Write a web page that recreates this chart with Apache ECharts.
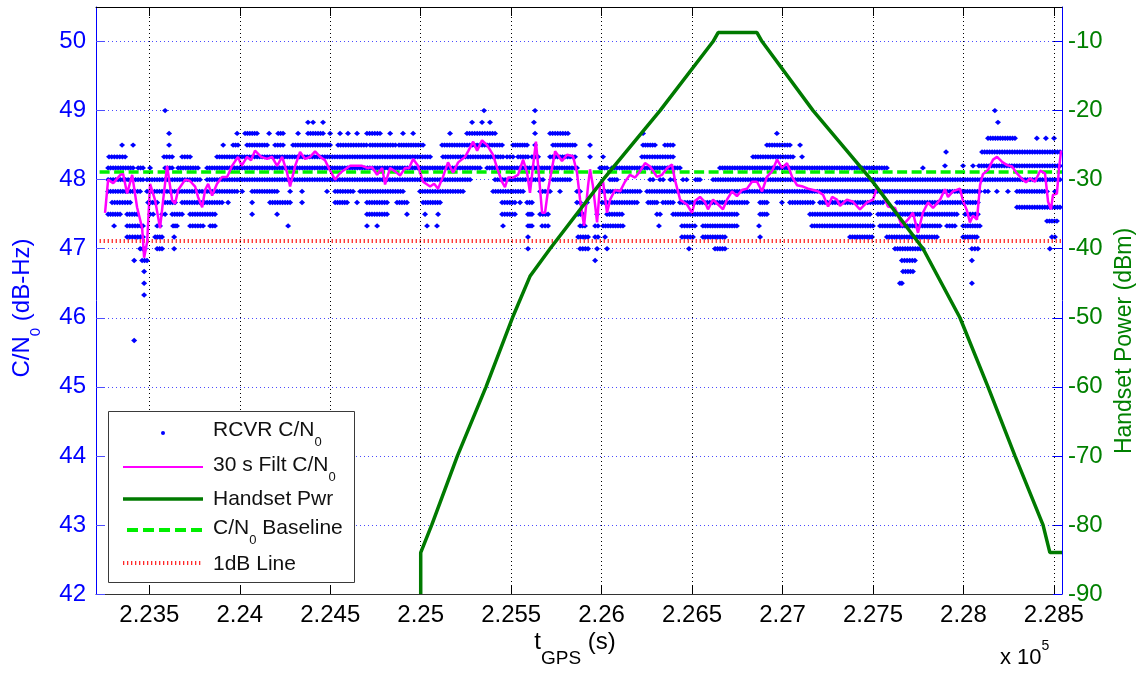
<!DOCTYPE html>
<html><head><meta charset="utf-8">
<script src="https://cdn.jsdelivr.net/npm/echarts@6/dist/echarts.min.js"></script>
<style>html,body{margin:0;padding:0;background:#fff}#c{width:1146px;height:677px}</style>
</head><body><div id="c"></div>
<script>
// ---------------- data ----------------
const xTicks = [223500,224000,224500,225000,225500,226000,226500,227000,227500,228000,228500];
const xTickLabels = ['2.235','2.24','2.245','2.25','2.255','2.26','2.265','2.27','2.275','2.28','2.285'];
const xRange = [223205, 228545];

// receiver C/N0 samples, grouped as runs [tStart, tEnd] of consecutive samples at each quantized level
const cnoLevels = [49.0, 48.83, 48.67, 48.6, 48.5, 48.4, 48.33, 48.2, 48.17, 48.0, 47.83, 47.67, 47.6, 47.5, 47.4, 47.33, 47.17, 47.0, 46.83, 46.67, 46.5, 46.33, 45.67];
const cnoRuns = [
 [[223587,223587],[225350,225350],[225632,225632],[228174,228174]],
 [[224377,224377],[224405,224405],[224460,224460],[225284,225284],[225339,225339],[225383,225383],[225626,225626],[228191,228191]],
 [[223609,223609],[223985,223985],[224029,224095],[224162,224162],[224212,224239],[224322,224322],[224377,224460],[224499,224499],[224554,224554],[224598,224598],[224648,224648],[224703,224775],[224831,224831],[224902,224902],[224958,224958],[225162,225162],[225256,225411],[225632,225632],[225715,225814],[226229,226229],[226969,226969]],
 [[228136,228285],[228406,228406],[228456,228456],[228501,228501]],
 [[223349,223349],[223410,223410],[223609,223609],[223908,223908],[223963,223990],[224040,224151],[224195,224239],[224294,224499],[224543,224700],[224720,224860],[224880,225013],[225118,225450],[225510,225588],[225632,225632],[225731,225853],[225936,225936],[226229,226295],[226350,226395],[226914,227041],[227097,227097]],
 [[227904,227904],[228103,228534]],
 [[223277,223366],[223581,223626],[223681,223725],[223874,225052],[225123,225455],[225477,225510],[225538,225593],[225615,225649],[225715,225853],[225936,225936],[226008,226008],[226223,226395],[226837,227058],[227108,227108]],
 [[227898,227898],[227998,227998],[228053,228053],[228086,228534]],
 [[223272,223410],[223438,223465],[223504,223504],[223587,223626],[223659,223769],[223819,225328],[225367,225864],[225991,226030],[226057,226433],[226654,227577],[227776,227776]],
 [[223272,223465],[223487,223780],[223819,225273],[225411,225676],[225731,225825],[226046,226085],[226268,226284],[226323,226340],[226380,226400],[226450,226470],[226520,226544],[226616,228534]],
 [[223272,223449],[223487,223985],[224013,224013],[224068,224206],[224278,224278],[224344,224344],[224482,224482],[224527,224626],[224665,224902],[224996,225234],[225400,225566],[225660,225715],[225770,225770],[225864,225881],[226008,226212],[226251,228091],[228119,228136],[228185,228185],[228246,228246],[228296,228462],[228506,228506]],
 [[223294,223394],[223493,223543],[223587,223642],[223681,223902],[223935,223935],[224068,224068],[224167,224278],[224344,224344],[224527,224593],[224648,224648],[224703,224814],[224869,224924],[225013,225107],[225450,225521],[225549,225549],[225588,225615],[225864,225881],[225919,225919],[226002,226196],[226257,226306],[226339,226395],[226433,226804],[226876,226914],[226997,226997],[227041,227168],[227207,227555],[227633,228080]],
 [[228296,228534]],
 [[223272,223338],[223377,223432],[223504,223521],[223570,223587],[223626,223681],[223725,223863],[224068,224068],[224206,224206],[224703,224814],[224924,224924],[225024,225024],[225096,225096],[225450,225521],[225593,225615],[225660,225704],[225870,225897],[225975,225975],[226030,226113],[226306,226323],[226395,226748],[226876,226914],[227152,227483],[227528,227964],[228009,228080]],
 [[228462,228517]],
 [[223305,223305],[223377,223465],[223543,223559],[223631,223653],[223725,223797],[223836,223863],[224267,224267],[224703,224703],[224759,224759],[225035,225035],[225090,225090],[225455,225455],[225593,225615],[225671,225704],[225881,225908],[225964,225980],[226008,226118],[226317,226317],[226444,226516],[226560,226748],[226870,226870],[227163,227500],[227539,227870],[227909,227953],[227998,228091]],
 [[223377,223465],[223532,223570],[223637,223637],[225593,225593],[225870,225925],[225964,225980],[226019,226019],[226444,226505],[226560,226682],[226876,226876],[227373,227495],[227577,227854],[227998,228075],[228489,228506]],
 [[223449,223476],[223543,223570],[223637,223637],[225593,225593],[225881,225925],[225975,225975],[226030,226030],[226483,226483],[226627,226682],[227622,227776],[228047,228080],[228478,228478]],
 [[223416,223416],[223460,223487],[225964,225964],[227660,227732],[228047,228047]],
 [[223471,223471],[227666,227721]],
 [[223471,223471],[227649,227660],[228047,228047]],
 [[223471,223471]],
 [[223416,223416]]
];

// 30 s filtered C/N0 [t, dB-Hz]
const filtCno = [[223255,47.52],[223272,48.0],[223300,47.95],[223340,48.07],[223355,48.08],[223377,47.8],[223405,48.07],[223432,47.6],[223460,47.3],[223471,46.87],[223488,47.1],[223504,47.94],[223532,47.7],[223559,47.3],[223576,47.7],[223598,48.2],[223626,47.7],[223642,47.65],[223659,47.85],[223698,48.0],[223725,47.98],[223753,47.9],[223769,47.75],[223792,47.6],[223808,47.85],[223825,47.94],[223847,47.77],[223874,47.94],[223902,48.04],[223930,48.04],[223957,48.2],[223990,48.33],[224010,48.2],[224040,48.33],[224062,48.28],[224084,48.42],[224118,48.33],[224151,48.3],[224178,48.33],[224206,48.2],[224234,48.33],[224261,48.1],[224278,47.9],[224306,48.2],[224333,48.4],[224361,48.3],[224389,48.33],[224416,48.41],[224444,48.33],[224471,48.28],[224499,48.13],[224527,48.0],[224549,48.08],[224571,48.13],[224610,48.2],[224648,48.2],[224676,48.2],[224704,48.17],[224731,48.18],[224759,48.07],[224787,48.17],[224803,47.93],[224831,48.17],[224858,48.12],[224886,48.06],[224914,48.17],[224936,48.17],[224958,48.3],[224985,48.2],[225013,47.97],[225052,47.9],[225074,47.94],[225096,47.87],[225123,48.04],[225151,48.25],[225179,48.1],[225207,48.25],[225245,48.33],[225262,48.41],[225290,48.55],[225312,48.42],[225339,48.57],[225367,48.5],[225400,48.36],[225422,48.17],[225449,47.97],[225466,47.89],[225482,48.03],[225510,48.03],[225538,48.07],[225566,48.29],[225588,48.1],[225604,47.81],[225621,48.2],[225637,48.55],[225649,48.2],[225671,47.52],[225687,47.52],[225704,47.85],[225743,48.41],[225781,48.27],[225809,48.36],[225842,48.34],[225864,48.1],[225881,47.71],[225903,47.33],[225925,47.91],[225936,48.15],[225952,47.91],[225975,47.38],[225991,47.91],[226008,47.97],[226030,47.52],[226047,47.71],[226074,47.85],[226102,47.83],[226129,47.97],[226157,48.07],[226185,48.03],[226212,48.12],[226240,48.24],[226268,48.19],[226306,48.04],[226334,48.07],[226362,48.17],[226389,48.22],[226406,47.99],[226434,47.71],[226472,47.64],[226500,47.52],[226516,47.69],[226544,47.75],[226572,47.67],[226588,47.57],[226616,47.71],[226644,47.64],[226671,47.57],[226693,47.71],[226721,47.83],[226748,47.76],[226776,47.85],[226804,47.87],[226831,47.97],[226859,47.97],[226887,47.83],[226914,48.04],[226942,48.12],[226970,48.29],[226997,48.17],[227025,48.24],[227053,48.04],[227080,47.92],[227113,47.9],[227141,47.87],[227169,47.85],[227196,47.83],[227224,47.78],[227252,47.61],[227274,47.75],[227301,47.71],[227318,47.62],[227356,47.71],[227389,47.68],[227428,47.57],[227467,47.67],[227500,47.71],[227522,47.88],[227550,47.81],[227583,47.61],[227622,47.59],[227660,47.33],[227693,47.42],[227721,47.52],[227749,47.23],[227776,47.52],[227804,47.67],[227832,47.59],[227871,47.71],[227898,47.86],[227915,47.75],[227942,47.83],[227981,47.87],[227998,47.69],[228020,47.55],[228036,47.38],[228053,47.48],[228075,47.42],[228092,47.92],[228108,48.08],[228136,48.14],[228164,48.29],[228186,48.33],[228213,48.26],[228241,48.21],[228269,48.19],[228296,48.09],[228324,48.01],[228346,47.96],[228368,48.02],[228396,47.97],[228424,48.13],[228451,48.09],[228468,47.68],[228484,47.57],[228495,47.78],[228517,47.8],[228528,48.15],[228540,48.42]];

// handset transmit power [t, dBm]
const handsetPwr = [[225000,-90],[225000,-84],[225061,-80],[225203,-70],[225361,-60],[225507,-50],[225604,-44],[225715,-40],[226008,-30],[226323,-20],[226616,-10],[226644,-8.7],[226859,-8.7],[226887,-10],[227169,-20],[227490,-30],[227777,-40],[227981,-50],[228136,-60],[228285,-70],[228440,-80],[228478,-84],[228545,-84]];

const baselineCno = 48.11;
const oneDbCno = 47.11;
const refLineSpan = [223225, 228545];

// ---------------- build ----------------
const FONT = '"Liberation Sans", Arial, Helvetica, sans-serif';
const mctx = document.createElement('canvas').getContext('2d');
function tw(t, s) { mctx.font = s + 'px ' + FONT; return mctx.measureText(t).width; }
function label(parts, size, color, x, y, rot, anchor, z) {
  let cx = 0; const ch = [];
  for (const p of parts) {
    const s = p.size || ((p.sub || p.sup) ? Math.round(size * 0.62) : size);
    const dy = p.dy !== undefined ? p.dy : (p.sub ? size * 0.58 : (p.sup ? -size * 0.55 : 0));
    ch.push({type: 'text', x: cx, y: dy, silent: true, z: z || 50,
      style: {text: p.t, font: s + 'px ' + FONT, fill: color, align: 'left', verticalAlign: 'middle'}});
    cx += tw(p.t, s);
  }
  const off = anchor === 'left' ? 0 : -cx / 2;
  ch.forEach(c => c.x += off);
  return {type: 'group', x: x, y: y, rotation: rot || 0, z: z || 50, children: ch};
}

const runData = [];
cnoLevels.forEach((lv, i) => cnoRuns[i].forEach(r => runData.push([r[0], r[1], lv])));

const BLUE = '#0000ff', GREEN_TXT = '#008000';
const chart = echarts.init(document.getElementById('c'), null, {renderer: 'canvas'});

const LG = {x: 108, y: 411, w: 246, h: 171, ix1: 123, ix2: 203, tx: 213};
const legendRows = [433, 467, 499, 530, 563];

const graphics = [
  label([{t: 'C/N'}, {t: '0', sub: true}, {t: ' (dB-Hz)'}], 24, BLUE, 22, 308, Math.PI / 2),
  label([{t: 'Handset Power (dBm)'}], 23, GREEN_TXT, 1125, 341, Math.PI / 2),
  label([{t: 't'}, {t: 'GPS', size: 19, dy: 17}, {t: ' (s)'}], 24, '#000', 575, 642, 0),
  label([{t: 'x 10'}, {t: '5', sup: true}], 22, '#000', 1000, 658, 0, 'left'),
  {type: 'rect', z: 60, shape: {x: LG.x + 0.5, y: LG.y + 0.5, width: LG.w, height: LG.h},
    style: {fill: '#fff', stroke: '#3a3a3a', lineWidth: 1}},
  {type: 'circle', z: 61, shape: {cx: 163, cy: legendRows[0], r: 2}, style: {fill: BLUE}},
  {type: 'line', z: 61, shape: {x1: LG.ix1, y1: legendRows[1], x2: LG.ix2, y2: legendRows[1]}, style: {stroke: '#ff00ff', lineWidth: 2}},
  {type: 'line', z: 61, shape: {x1: LG.ix1, y1: legendRows[2], x2: LG.ix2, y2: legendRows[2]}, style: {stroke: '#007a00', lineWidth: 3.5}},
  {type: 'line', z: 61, shape: {x1: 127, y1: legendRows[3], x2: LG.ix2, y2: legendRows[3]}, style: {stroke: '#00ee00', lineWidth: 4, lineDash: [11, 5]}},
  {type: 'line', z: 61, shape: {x1: LG.ix1, y1: legendRows[4], x2: LG.ix2, y2: legendRows[4]}, style: {stroke: '#ff2a2a', lineWidth: 4, lineDash: [1.3, 2.7]}},
  label([{t: 'RCVR C/N'}, {t: '0', sub: true}], 21, '#111', LG.tx, legendRows[0] - 3, 0, 'left', 62),
  label([{t: '30 s Filt C/N'}, {t: '0', sub: true}], 21, '#111', LG.tx, legendRows[1] - 1.5, 0, 'left', 62),
  label([{t: 'Handset Pwr'}], 21, '#111', LG.tx, legendRows[2] + 0.5, 0, 'left', 62),
  label([{t: 'C/N'}, {t: '0', sub: true}, {t: ' Baseline'}], 21, '#111', LG.tx, legendRows[3] - 1.5, 0, 'left', 62),
  label([{t: '1dB Line'}], 21, '#111', LG.tx, legendRows[4] + 1, 0, 'left', 62)
];

const option = {
  animation: false,
  backgroundColor: '#fff',
  textStyle: {fontFamily: FONT},
  grid: {left: 96, right: 84, top: 7, bottom: 83, containLabel: false, outerBoundsMode: 'none'},
  xAxis: [{
    type: 'value', min: xRange[0], max: xRange[1], position: 'bottom',
    axisLine: {lineStyle: {color: '#333', width: 1}},
    axisTick: {show: true, inside: true, length: 9, customValues: xTicks, lineStyle: {color: '#000'}},
    axisLabel: {show: true, customValues: xTicks, fontSize: 24, color: '#000', margin: 9, fontFamily: FONT,
      formatter: v => { const i = xTicks.indexOf(v); return i >= 0 ? xTickLabels[i] : ''; }},
    splitLine: {show: false}
  }, {
    type: 'value', min: xRange[0], max: xRange[1], position: 'top',
    axisLine: {lineStyle: {color: '#000', width: 1}},
    axisTick: {show: true, inside: true, length: 9, customValues: xTicks, lineStyle: {color: '#000'}},
    axisLabel: {show: false}, splitLine: {show: false}
  }],
  yAxis: [{
    type: 'value', min: 42, max: 50.5, interval: 1, position: 'left',
    axisLine: {show: true, lineStyle: {color: BLUE, width: 1}},
    axisTick: {show: true, inside: true, length: 9, lineStyle: {color: '#4d4dff'}},
    axisLabel: {color: BLUE, fontSize: 24, margin: 10, showMaxLabel: false, fontFamily: FONT},
    splitLine: {show: true, lineStyle: {color: '#4a4aff', width: 1, type: [1, 3]}}
  }, {
    type: 'value', min: -90, max: -5, interval: 10, position: 'right',
    axisLine: {show: true, lineStyle: {color: BLUE, width: 1}},
    axisTick: {show: true, inside: true, length: 9, lineStyle: {color: BLUE}},
    axisLabel: {color: GREEN_TXT, fontSize: 24, margin: 6, showMaxLabel: false, fontFamily: FONT},
    splitLine: {show: false}
  }],
  graphic: graphics,
  series: [
    {
      type: 'custom', name: 'RCVR C/N0', xAxisIndex: 0, yAxisIndex: 0, z: 2, silent: true, clip: true,
      data: runData, encode: {x: [0, 1], y: 2},
      renderItem: function (params, api) {
        const v = api.value(2);
        const p0 = api.coord([api.value(0), v]);
        const p1 = api.coord([api.value(1), v]);
        const span = p1[0] - p0[0];
        const n = Math.max(1, Math.round(span / 2.5) + 1);
        const step = n > 1 ? span / (n - 1) : 0;
        const ch = [];
        for (let i = 0; i < n; i++) {
          const cx = p0[0] + i * step, cy = p0[1];
          ch.push({type: 'polygon', shape: {points: [[cx - 3, cy], [cx, cy - 2.7], [cx + 3, cy], [cx, cy + 2.7]]},
            style: {fill: '#0000ff'}});
        }
        return {type: 'group', children: ch};
      },
      markLine: {
        silent: true, symbol: 'none', label: {show: false}, animation: false,
        lineStyle: {color: '#000', width: 1, type: [1, 3]},
        data: xTicks.map(v => ({xAxis: v}))
      }
    },
    {
      type: 'line', name: 'C/N0 Baseline', xAxisIndex: 0, yAxisIndex: 0, z: 3, symbol: 'none', silent: true,
      data: refLineSpan.map(t => [t, baselineCno]),
      lineStyle: {color: '#00ee00', width: 3.5, type: [10, 4.5]}
    },
    {
      type: 'line', name: '1dB Line', xAxisIndex: 0, yAxisIndex: 0, z: 3, symbol: 'none', silent: true,
      data: refLineSpan.map(t => [t, oneDbCno]),
      lineStyle: {color: '#ff2a2a', width: 4, type: [1.3, 2.7], cap: 'butt'}
    },
    {
      type: 'line', name: '30 s Filt C/N0', xAxisIndex: 0, yAxisIndex: 0, z: 4, symbol: 'none', silent: true,
      data: filtCno, lineStyle: {color: '#ff00ff', width: 2.5}
    },
    {
      type: 'line', name: 'Handset Pwr', xAxisIndex: 0, yAxisIndex: 1, z: 5, symbol: 'none', silent: true,
      data: handsetPwr, lineStyle: {color: '#007a00', width: 3.5}
    }
  ]
};
chart.setOption(option);
</script></body></html>
